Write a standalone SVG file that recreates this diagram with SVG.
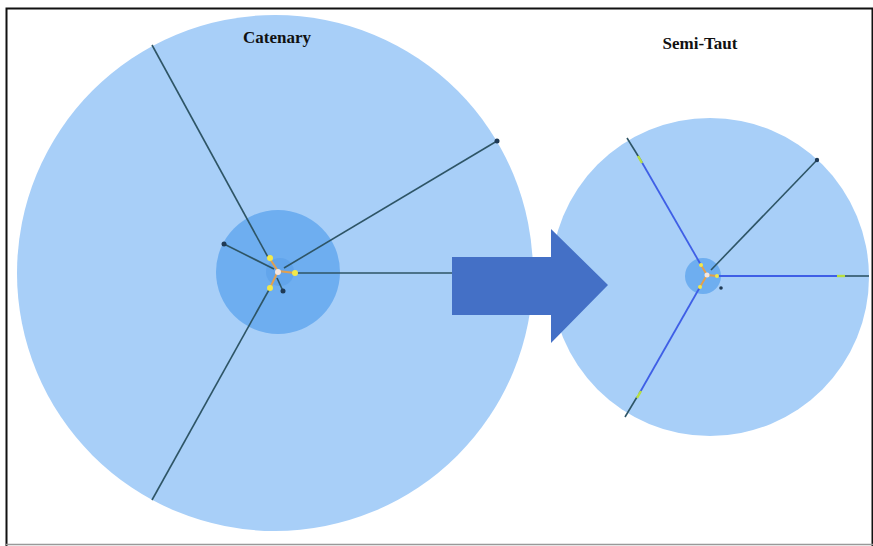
<svg xmlns="http://www.w3.org/2000/svg" width="873" height="546" viewBox="0 0 873 546">
<style>
.outer{fill:#a8cff8}
.inner{fill:#6eaef0}
.line{stroke:#2e5566;stroke-width:1.6;fill:none}
.blue{stroke:#3f5fe6;stroke-width:1.8;fill:none}
.orange{stroke:#e0a050;stroke-width:2;fill:none}
.ydot{fill:#f2e84a}
.gmark{stroke:#b8e040;stroke-width:2.4}
.kdot{fill:#1f3a55}
.title{font-family:"Liberation Serif",serif;font-weight:bold;font-size:17px;fill:#111}
</style>
<rect x="0" y="0" width="873" height="546" fill="#fff"/>
<path d="M6.5 546 V8.5 H872.5 V546" fill="none" stroke="#111" stroke-width="2"/>
<line x1="6" y1="544.5" x2="873" y2="544.5" stroke="#999" stroke-width="1.5"/>

<g id="catenary">
<circle class="outer" cx="275" cy="273" r="258"/>
<circle class="inner" cx="278" cy="272" r="62"/>
<circle cx="280" cy="272" r="14" fill="#5a9fe8" opacity="0.6"/>
<text class="title" x="277" y="43" text-anchor="middle">Catenary</text>
</g>

<g id="semi-taut">
<circle class="outer" cx="710" cy="277" r="159"/>
<circle class="inner" cx="703" cy="276" r="18"/>
<text class="title" x="700" y="49" text-anchor="middle">Semi-Taut</text>
</g>

<g id="connectors">
<line class="line" x1="152" y1="45" x2="269" y2="259"/>
<line class="line" x1="284" y1="268" x2="497" y2="141"/>
<line class="line" x1="295" y1="273" x2="452" y2="273"/>
<line class="line" x1="270" y1="288" x2="152" y2="500"/>
<line class="line" x1="224" y1="244" x2="274" y2="269"/>
<line class="line" x1="277" y1="278" x2="283" y2="291"/>
<circle class="kdot" cx="497" cy="141" r="2.5"/>
<circle class="kdot" cx="224" cy="244" r="2.5"/>
<circle class="kdot" cx="283" cy="291" r="2.5"/>
<path class="orange" d="M270 259 L278 271 L295 273 M278 271 L270 288"/>
<circle cx="278" cy="272" r="3" fill="#f4e6e0"/>
<circle class="ydot" cx="270" cy="258" r="3"/>
<circle class="ydot" cx="295" cy="273" r="3"/>
<circle class="ydot" cx="270" cy="288" r="3"/>

<line class="line" x1="627" y1="138" x2="640" y2="159"/>
<line class="blue" x1="640" y1="159" x2="701" y2="265"/>
<line class="line" x1="711" y1="270" x2="817" y2="160"/>
<circle class="kdot" cx="817" cy="160" r="2.2"/>
<line class="blue" x1="717" y1="276" x2="838" y2="276"/>
<line class="line" x1="841" y1="276" x2="869" y2="276"/>
<line class="blue" x1="700" y1="287" x2="639" y2="394"/>
<line class="line" x1="637" y1="397" x2="625" y2="417"/>
<line class="gmark" x1="638" y1="156" x2="642" y2="163"/>
<line class="gmark" x1="837" y1="276" x2="845" y2="276"/>
<line class="gmark" x1="641" y1="391" x2="637" y2="398"/>
<path class="orange" d="M701 265 L707 275 L717 276 M707 275 L700 287" stroke-width="1.6"/>
<circle cx="707" cy="275" r="2.5" fill="#f4e6e0"/>
<circle class="ydot" cx="701" cy="265" r="2"/>
<circle class="ydot" cx="717" cy="276" r="2"/>
<circle class="ydot" cx="700" cy="287" r="2"/>
<circle class="kdot" cx="721" cy="288" r="1.8"/>
</g>

<g id="arrow">
<path d="M452 257 H551 V229 L608 285 L551 343 V315 H452 Z" fill="#4470c6"/>
</g>
</svg>
